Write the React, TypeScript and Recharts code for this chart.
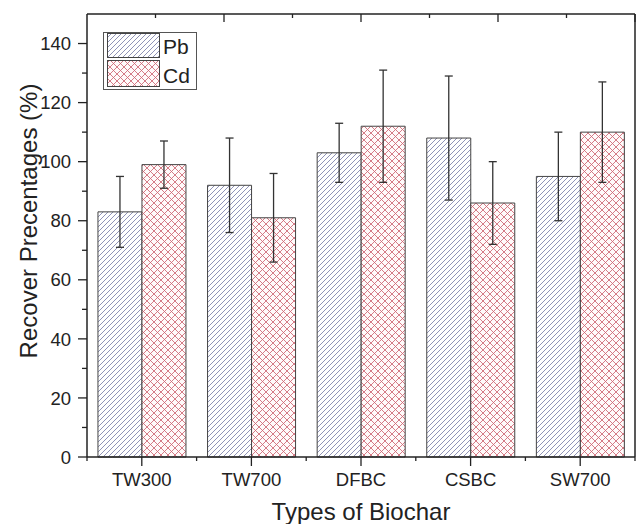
import React from "react";
import { BarChart, Bar, XAxis, YAxis, ErrorBar, Legend } from "recharts";

const categories = ["TW300", "TW700", "DFBC", "CSBC", "SW700"];
const pbValues = [83, 92, 103, 108, 95];
const pbErrors = [12, 16, 10, 21, 15];
const cdValues = [99, 81, 112, 86, 110];
const cdErrors = [8, 15, 19, 14, 17];
const leftTicks = [0, 10, 20, 30, 40, 50, 60, 70, 80, 90, 100, 110, 120, 130, 140];
const rightTicks = [15, 30, 45, 60, 75, 90, 105, 120, 135];
const topTicks = [0.5, 1, 1.5, 2, 2.5, 3, 3.5, 4, 4.5];
const seriesNames = ["Pb", "Cd"];
const yTitle = "Recover Precentages (%)";
const xTitle = "Types of Biochar";

const data = categories.map((c, i) => ({
  name: c,
  pb: pbValues[i],
  pbErr: pbErrors[i],
  cd: cdValues[i],
  cdErr: cdErrors[i],
}));

const FONT = "'Liberation Sans', Arial, sans-serif";
const INK = "#222";
const PB_LINE = "#7b7fab";
const CD_LINE = "#cd6672";
const BAND_HALF = 548 / 5 / 2;

const PbPattern = ({ id }: { id: string }) => (
  <pattern id={id} patternUnits="userSpaceOnUse" width={5} height={5}>
    <rect width={5} height={5} fill="#fff" />
    <path d="M-1,1 L1,-1 M0,5 L5,0 M4,6 L6,4" stroke={PB_LINE} strokeWidth={0.85} />
  </pattern>
);
const CdPattern = ({ id }: { id: string }) => (
  <pattern id={id} patternUnits="userSpaceOnUse" width={7} height={7}>
    <rect width={7} height={7} fill="#fffafa" />
    <path d="M0,0 L7,7 M7,0 L0,7" stroke={CD_LINE} strokeWidth={0.85} />
  </pattern>
);

const LeftTick = (props: any) => {
  const { x, y, payload } = props;
  const major = payload.value % 20 === 0;
  return (
    <g>
      <line x1={x - (major ? 9 : 5)} x2={x} y1={y} y2={y} stroke={INK} strokeWidth={1.3} />
      {major && (
        <text x={x - 16} y={y} dy="0.36em" textAnchor="end" fontSize={18.5} fontFamily={FONT} fill={INK}>
          {payload.value}
        </text>
      )}
    </g>
  );
};

const RightTick = (props: any) => {
  const { x, y, payload } = props;
  const major = payload.value % 30 === 0;
  return <line x1={x - (major ? 8 : 4)} x2={x} y1={y} y2={y} stroke={INK} strokeWidth={1.3} />;
};

const TopTick = (props: any) => {
  const { x, y, payload } = props;
  const major = Number.isInteger(payload.value);
  return <line x1={x} x2={x} y1={y} y2={y + (major ? 8 : 4)} stroke={INK} strokeWidth={1.3} />;
};

const BottomTick = (props: any) => {
  const { x, y, payload, index } = props;
  return (
    <g>
      <line x1={x} x2={x} y1={y} y2={y + 9} stroke={INK} strokeWidth={1.3} />
      <line x1={x - BAND_HALF} x2={x - BAND_HALF} y1={y} y2={y + 4} stroke={INK} strokeWidth={1.3} />
      {index === categories.length - 1 && (
        <line x1={x + BAND_HALF} x2={x + BAND_HALF} y1={y} y2={y + 4} stroke={INK} strokeWidth={1.3} />
      )}
      <text x={x} y={y + 29} textAnchor="middle" fontSize={18.5} fontFamily={FONT} fill={INK}>
        {payload.value}
      </text>
    </g>
  );
};

const LegendBox = () => (
  <svg width={95} height={59} style={{ display: "block" }}>
    <defs>
      <PbPattern id="lgPb" />
      <CdPattern id="lgCd" />
    </defs>
    <rect x={0.5} y={0.5} width={93} height={57} fill="#fff" stroke="#555" strokeWidth={1} />
    <rect x={4.5} y={1.5} width={52} height={24} fill="url(#lgPb)" stroke="#444" strokeWidth={1} />
    <rect x={4.5} y={28.5} width={52} height={26} fill="url(#lgCd)" stroke="#444" strokeWidth={1} />
    <text x={60} y={21.5} fontSize={21} fontFamily={FONT} fill={INK}>{seriesNames[0]}</text>
    <text x={60} y={51} fontSize={21} fontFamily={FONT} fill={INK}>{seriesNames[1]}</text>
  </svg>
);

export default function App() {
  return (
    <div style={{ position: "absolute", left: 0, top: 0, background: "#fff" }}>
      <BarChart
        width={636}
        height={524}
        data={data}
        margin={{ top: 14, right: 1, bottom: 0, left: 27 }}
        barCategoryGap="10%"
        barGap={0}
      >
        <defs>
          <PbPattern id="pbHatch" />
          <CdPattern id="cdHatch" />
        </defs>
        <XAxis
          dataKey="name"
          height={67}
          axisLine={{ stroke: INK, strokeWidth: 1.5 }}
          tickLine={false}
          tickSize={0}
          tickMargin={0}
          tick={<BottomTick />}
          interval={0}
          label={{
            content: () => (
              <text x={361} y={520} textAnchor="middle" fontSize={24} fontFamily={FONT} fill={INK}>
                {xTitle}
              </text>
            ),
          }}
        />
        <XAxis
          xAxisId="top"
          orientation="top"
          type="number"
          domain={[0, 5]}
          ticks={topTicks}
          mirror
          axisLine={{ stroke: INK, strokeWidth: 1.5 }}
          tickLine={false}
          tickSize={0}
          tickMargin={0}
          tick={<TopTick />}
          interval={0}
        />
        <YAxis
          width={60}
          domain={[0, 150]}
          ticks={leftTicks}
          interval={0}
          axisLine={{ stroke: INK, strokeWidth: 1.5 }}
          tickLine={false}
          tickSize={0}
          tickMargin={0}
          tick={<LeftTick />}
          label={{
            content: () => (
              <text
                x={37}
                y={221}
                transform="rotate(-90 37 221)"
                textAnchor="middle"
                fontSize={24}
                fontFamily={FONT}
                fill={INK}
              >
                {yTitle}
              </text>
            ),
          }}
        />
        <YAxis
          yAxisId="right"
          orientation="right"
          mirror
          domain={[0, 150]}
          ticks={rightTicks}
          interval={0}
          axisLine={{ stroke: INK, strokeWidth: 1.5 }}
          tickLine={false}
          tickSize={0}
          tickMargin={0}
          tick={<RightTick />}
        />
        <Legend
          layout="horizontal"
          verticalAlign="middle"
          align="center"
          content={() => <LegendBox />}
          wrapperStyle={{ left: 103, top: 32, width: 95, height: 59 }}
        />
        <Bar dataKey="pb" name={seriesNames[0]} fill="url(#pbHatch)" stroke="#444" strokeWidth={1} isAnimationActive={false}>
          <ErrorBar dataKey="pbErr" width={4} stroke="#333" strokeWidth={1.3} />
        </Bar>
        <Bar dataKey="cd" name={seriesNames[1]} fill="url(#cdHatch)" stroke="#444" strokeWidth={1} isAnimationActive={false}>
          <ErrorBar dataKey="cdErr" width={4} stroke="#333" strokeWidth={1.3} />
        </Bar>
      </BarChart>
    </div>
  );
}
